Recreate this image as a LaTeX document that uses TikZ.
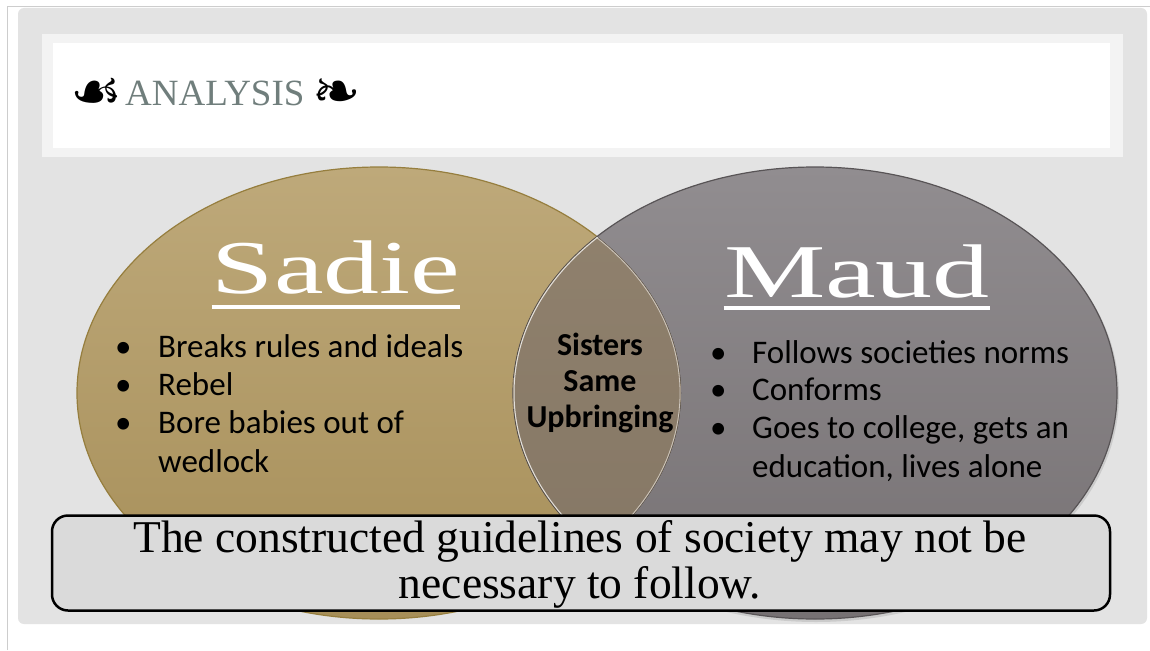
\documentclass[tikz,border=0pt]{standalone}
\usepackage{fontspec}
\setmainfont{Liberation Serif}
\newfontfamily\bodyfont{Carlito}
\newfontfamily\symfont{DejaVu Sans}
\usetikzlibrary{positioning}

\definecolor{slidegray}{RGB}{227,227,227}
\definecolor{framegray}{RGB}{205,205,205}
\definecolor{titleframe}{RGB}{243,243,243}
\definecolor{titletext}{RGB}{112,126,124}
\definecolor{goldtop}{RGB}{190,169,122}
\definecolor{goldbot}{RGB}{166,142,88}
\definecolor{goldrim}{RGB}{150,126,62}
\definecolor{graytop}{RGB}{145,141,144}
\definecolor{graybot}{RGB}{118,113,115}
\definecolor{grayrim}{RGB}{88,84,86}
\definecolor{lenstop}{RGB}{145,130,110}
\definecolor{lensbot}{RGB}{132,118,100}
\definecolor{boxfill}{RGB}{218,218,218}

\begin{document}
\begin{tikzpicture}[x=1pt, y=-1pt,
heading/.style={font=\fontsize{76}{76}\selectfont, text=white, inner sep=0pt, anchor=base},
item/.style={font=\bodyfont\fontsize{33}{38}\selectfont, inner sep=0pt, anchor=base west},
shared/.style={font=\bodyfont\bfseries\fontsize{32}{36}\selectfont, inner sep=0pt, anchor=base},
moral/.style={font=\fontsize{45.5}{46}\selectfont, inner sep=0pt, anchor=base},
ornament/.style={font=\symfont\fontsize{58}{58}\selectfont, inner sep=0pt, anchor=base west}
]
\useasboundingbox (0,0) rectangle (1150,650);

% page and slide
\fill[white] (0,0) rectangle (1150,650);
\draw[framegray, line width=1pt] (7,650) -- (7,7) -- (1150,7);
\fill[slidegray, rounded corners=6pt] (18,8) rectangle (1147,624);

% title bar
\fill[titleframe] (42,34) rectangle (1123,157);
\fill[white] (53,43) rectangle (1110,148);
\node[ornament] (orn_left) at (70,111) {☙};
\node[font=\fontsize{37}{37}\selectfont, text=titletext, inner sep=0pt, anchor=base west] (title) at (125,106) {ANALYSIS};
\node[ornament] (orn_right) at (312,111) {❧};

% the two sets
\coordinate (sadie_c) at (379,393);
\coordinate (maud_c) at (815,393);
\fill[black, opacity=0.1] ([shift={(1pt,-2pt)}]maud_c) ellipse [x radius=303pt, y radius=227pt];
\draw[goldrim, line width=1.2pt, top color=goldtop, bottom color=goldbot] (sadie_c) ellipse [x radius=302pt, y radius=226pt];
\draw[grayrim, line width=1.2pt, top color=graytop, bottom color=graybot] (maud_c) ellipse [x radius=302pt, y radius=226pt];
\begin{scope}
\clip (sadie_c) ellipse [x radius=302pt, y radius=226pt];
\fill[top color=lenstop, bottom color=lensbot] (maud_c) ellipse [x radius=302pt, y radius=226pt];
\draw[white!75!lenstop, line width=1pt] (maud_c) ellipse [x radius=301pt, y radius=225pt];
\end{scope}
\begin{scope}
\clip (maud_c) ellipse [x radius=302pt, y radius=226pt];
\draw[white!55!lenstop, line width=0.8pt] (sadie_c) ellipse [x radius=301pt, y radius=225pt];
\end{scope}

% headings
\node[heading, xscale=1.47] (sadie) at (336,293) {Sadie};
\draw[white, line width=4pt] ([yshift=-14pt]sadie.base west) -- ([yshift=-14pt]sadie.base east);
\node[heading, xscale=1.5] (maud) at (857,297) {Maud};
\draw[white, line width=4pt] ([yshift=-11pt]maud.base west) -- ([yshift=-11pt]maud.base east);

% Sadie list
\node[item] (sadie_d1) at (115,357) {•};
\node[item] (sadie_t1) at (158,357) {Breaks rules and ideals};
\node[item] (sadie_d2) at (115,395) {•};
\node[item] (sadie_t2) at (158,395) {Rebel};
\node[item] (sadie_d3) at (115,433) {•};
\node[item] (sadie_t3) at (158,433) {Bore babies out of};
\node[item] (sadie_t4) at (158,472) {wedlock};

% Maud list
\node[item] (maud_d1) at (710,363) {•};
\node[item] (maud_t1) at (752,363) {Follows societies norms};
\node[item] (maud_d2) at (710,400) {•};
\node[item] (maud_t2) at (752,400) {Conforms};
\node[item] (maud_d3) at (710,438) {•};
\node[item] (maud_t3) at (752,438) {Goes to college, gets an};
\node[item] (maud_t4) at (752,477) {education, lives alone};

% overlap
\node[shared] (both_1) at (600,355) {Sisters};
\node[shared] (both_2) at (600,391) {Same};
\node[shared] (both_3) at (600,427) {Upbringing};

% conclusion
\node[draw=black, fill=boxfill, line width=2.5pt, rounded corners=16pt, minimum width=1058pt, minimum height=95pt] (moral_box) at (581,563) {};
\node[moral] (moral_1) at (580,552) {The constructed guidelines of society may not be};
\node[moral] (moral_2) at (580,598) {necessary to follow.};
\end{tikzpicture}
\end{document}
